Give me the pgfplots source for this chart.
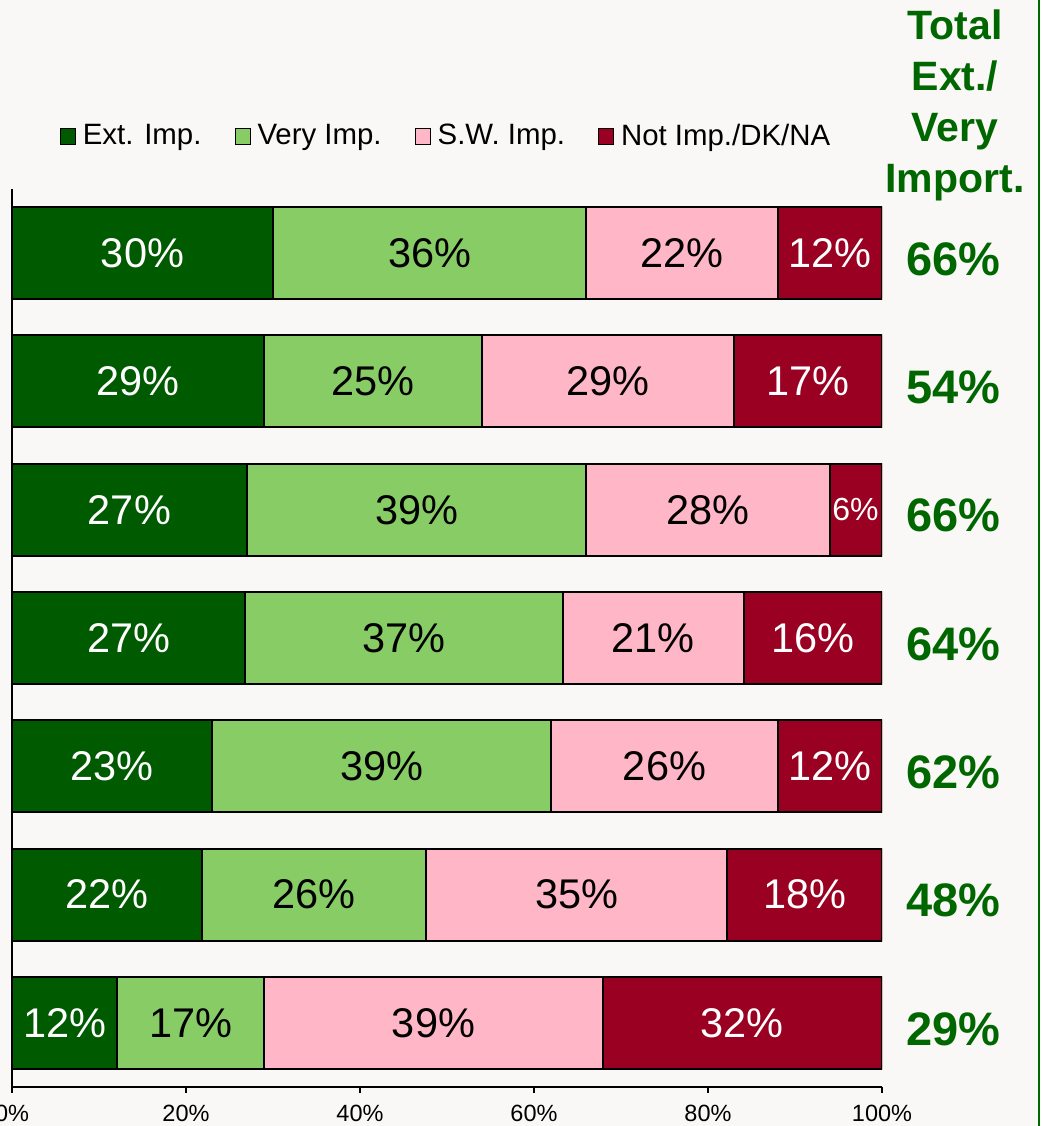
\documentclass[border=0pt]{standalone}
\usepackage{pgfplots}
\pgfplotsset{compat=1.18}
\usepackage{fontspec}
\setmainfont{Liberation Sans}
\definecolor{bg}{HTML}{F9F8F6}
\definecolor{extimp}{HTML}{005A00}
\definecolor{veryimp}{HTML}{88CC66}
\definecolor{swimp}{HTML}{FFB6C6}
\definecolor{notimp}{HTML}{990022}
\definecolor{tgreen}{HTML}{006600}
\pgfplotsset{
  pctlabel/.style={draw=none, mark=none,
    nodes near coords={\pgfmathprintnumber{\pgfplotspointmeta}\%},
    every node near coord/.append style={anchor=center, #1}},
}
\begin{document}
\begin{tikzpicture}[x=1pt,y=1pt]
\path[use as bounding box, fill=bg] (0,0) rectangle (520.5,563);
\clip (0,0) rectangle (520.5,563);
\draw[tgreen, line width=1pt] (519.5,0) -- (519.5,563);
\begin{axis}[
  at={(6pt,19.5pt)}, anchor=south west,
  scale only axis, width=435pt, height=449pt,
  xbar stacked, bar width=46pt,
  xmin=0, xmax=100, ymin=-0.5, ymax=6.5,
  axis lines=left, axis line style={-, line width=1pt, black},
  ytick=\empty,
  xtick={0,20,40,60,80,100},
  xticklabels={0\%,20\%,40\%,60\%,80\%,100\%},
  tick align=outside, major tick length=3pt,
  tick style={line width=1pt, black},
  xticklabel style={font=\fontsize{11.75}{14}\selectfont, yshift=-2.5pt},
  legend columns=4,
  legend image code/.code={\draw[#1, line width=0.5pt] (0pt,-4pt) rectangle (7.5pt,4pt);},
  legend style={at={(0.5,1.059)}, anchor=center, draw=none, fill=none,
    font=\fontsize{14.7}{17}\selectfont,
    /tikz/every odd column/.append style={column sep=1.5pt},
    /tikz/every even column/.append style={column sep=14.5pt}},
]
\addplot[fill=extimp, draw=black, line width=1pt] coordinates
  {(30,6) (29,5) (27,4) (26.8,3) (23,2) (21.8,1) (12.1,0)};
\addlegendentry{Ext. Imp.}
\addplot[fill=veryimp, draw=black, line width=1pt] coordinates
  {(36,6) (25,5) (39,4) (36.5,3) (39,2) (25.8,1) (16.9,0)};
\addlegendentry{Very Imp.}
\addplot[fill=swimp, draw=black, line width=1pt] coordinates
  {(22,6) (29,5) (28,4) (20.8,3) (26,2) (34.6,1) (38.9,0)};
\addlegendentry{S.W. Imp.}
\addplot[fill=notimp, draw=black, line width=1pt] coordinates
  {(12,6) (17,5) (6,4) (15.9,3) (12,2) (17.8,1) (32.1,0)};
\addlegendentry{Not Imp./DK/NA}
\end{axis}
\begin{axis}[
  at={(6pt,19.5pt)}, anchor=south west,
  scale only axis, width=435pt, height=449pt,
  xmin=0, xmax=100, ymin=-0.5, ymax=6.5,
  hide axis, clip=false,
  /pgf/number format/assume math mode=true,
  point meta=explicit,
]
% white labels on dark green
\addplot[pctlabel={text=white, font=\fontsize{20.75}{24}\selectfont}]
  table[meta=v] {
x y v
15 6 30
14.5 5 29
13.5 4 27
13.4 3 27
11.5 2 23
10.9 1 22
6.05 0 12
};
% black labels on light green and pink
\addplot[pctlabel={text=black, font=\fontsize{20.75}{24}\selectfont}]
  table[meta=v] {
x y v
48 6 36
41.5 5 25
46.5 4 39
45.05 3 37
42.5 2 39
34.7 1 26
20.55 0 17
77 6 22
68.5 5 29
80 4 28
73.7 3 21
75 2 26
64.9 1 35
48.45 0 39
};
% white labels on dark red
\addplot[pctlabel={text=white, font=\fontsize{20.75}{24}\selectfont}]
  table[meta=v] {
x y v
94 6 12
91.5 5 17
92.05 3 16
94 2 12
91.1 1 18
83.95 0 32
};
\addplot[pctlabel={text=white, font=\fontsize{16}{19}\selectfont}]
  table[meta=v] {
x y v
96.95 4 6
};
% totals
\addplot[pctlabel={text=tgreen, yshift=-3pt, font=\bfseries\fontsize{23.5}{28}\selectfont}]
  table[meta=v] {
x y v
108.2 6 66
108.2 5 54
108.2 4 66
108.2 3 64
108.2 2 62
108.2 1 48
108.2 0 29
};
\end{axis}
\node[align=center, text=tgreen, font=\bfseries\fontsize{20.5}{25.5}\selectfont, inner sep=0pt] at (477.5,510.1) {Total\\Ext./\\Very\\Import.};
\end{tikzpicture}
\end{document}
